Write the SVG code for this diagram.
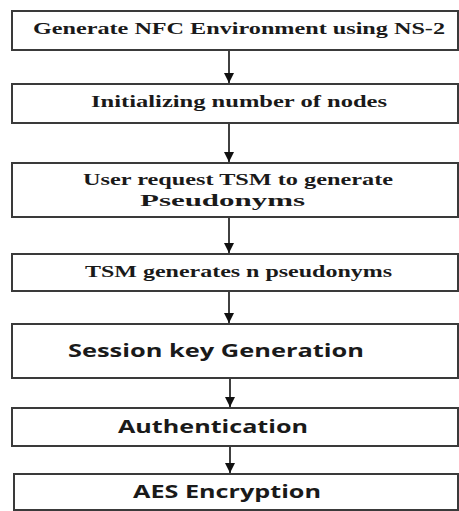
<svg xmlns="http://www.w3.org/2000/svg" width="459" height="511" viewBox="0 0 459 511">
<defs>
<marker id="ah" viewBox="0 0 10 10" refX="10" refY="5" markerWidth="10" markerHeight="10" markerUnits="userSpaceOnUse" orient="auto">
<path d="M0,0 L10,5 L0,10 Z" fill="#111"/>
</marker>
<style>
.box{fill:#fff;stroke:#3a3a3a;stroke-width:2}
.s{font-family:"Liberation Serif","Times New Roman",serif;font-weight:bold;font-size:17px;fill:#1a1a1a;text-anchor:start}
.c{font-family:"Open Sans","Liberation Sans",sans-serif;font-weight:bold;font-size:17px;fill:#1a1a1a;text-anchor:start}
.ar{stroke:#111;stroke-width:1.6;fill:none;marker-end:url(#ah)}
</style>
</defs>
<rect width="459" height="511" fill="#fff"/>
<g id="connectors">
<line class="ar" x1="229" y1="51" x2="229" y2="83"/>
<line class="ar" x1="229" y1="124" x2="229" y2="162"/>
<line class="ar" x1="229" y1="218" x2="229" y2="253"/>
<line class="ar" x1="229" y1="292" x2="229" y2="323"/>
<line class="ar" x1="230" y1="379" x2="230" y2="407"/>
<line class="ar" x1="230" y1="447" x2="230" y2="473"/>
</g>
<g id="n1">
<rect class="box" x="12" y="11" width="446" height="39"/>
<text class="s" x="33" y="34" textLength="412" lengthAdjust="spacingAndGlyphs">Generate NFC Environment using NS-2</text>
</g>
<g id="n2">
<rect class="box" x="12" y="84" width="446" height="39"/>
<text class="s" x="91" y="107" textLength="296" lengthAdjust="spacingAndGlyphs">Initializing number of nodes</text>
</g>
<g id="n3">
<rect class="box" x="12" y="163" width="446" height="54"/>
<text class="s" x="83" y="185" textLength="310" lengthAdjust="spacingAndGlyphs">User request TSM to generate</text>
<text class="s" x="140" y="206" textLength="165" lengthAdjust="spacingAndGlyphs">Pseudonyms</text>
</g>
<g id="n4">
<rect class="box" x="12" y="254" width="446" height="37"/>
<text class="s" x="85" y="277" textLength="307" lengthAdjust="spacingAndGlyphs">TSM generates n pseudonyms</text>
</g>
<g id="n5">
<rect class="box" x="12" y="324" width="446" height="54"/>
<text class="c" x="68" y="357" textLength="296" lengthAdjust="spacingAndGlyphs">Session key Generation</text>
</g>
<g id="n6">
<rect class="box" x="12" y="408" width="446" height="38"/>
<text class="c" x="118" y="433" textLength="190" lengthAdjust="spacingAndGlyphs">Authentication</text>
</g>
<g id="n7">
<rect class="box" x="14" y="474" width="444" height="36"/>
<text class="c" x="133" y="498" textLength="188" lengthAdjust="spacingAndGlyphs">AES Encryption</text>
</g>
</svg>
